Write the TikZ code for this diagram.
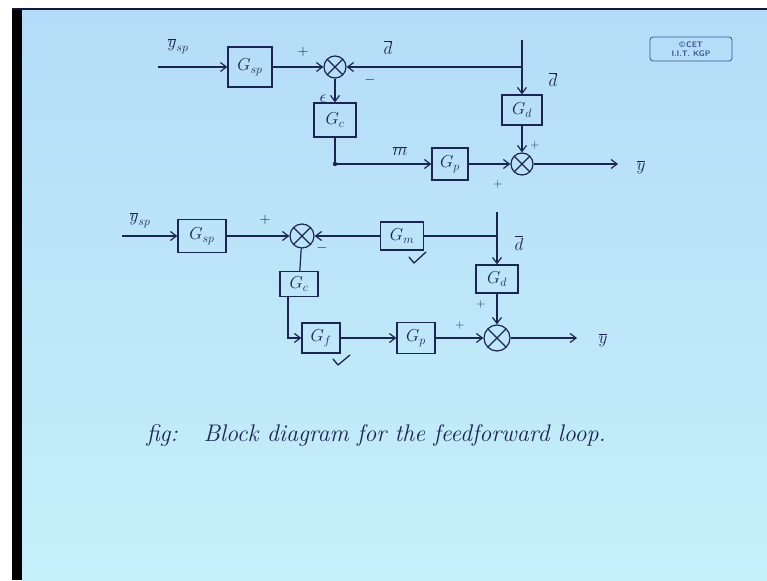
\documentclass[tikz,border=0pt]{standalone}
\usetikzlibrary{arrows.meta}
\definecolor{ink}{RGB}{28,36,84}
\definecolor{bgtop}{RGB}{180,220,248}
\definecolor{bgbot}{RGB}{198,240,250}
\definecolor{logoc}{RGB}{60,80,150}
\definecolor{edge}{RGB}{20,24,60}
\begin{document}
\begin{tikzpicture}[x=1pt,y=-1pt]
\tikzset{
  wire/.style={draw=ink,line width=1.2pt},
  sig/.style={wire,-{Straight Barb[length=6pt,width=9pt,line width=1.2pt]}},
  blk/.style={draw=ink,line width=1.2pt,rectangle,inner sep=0pt,text=ink,font=\fontsize{17}{19}\selectfont},
  sumj/.style={draw=ink,line width=1.2pt,circle,inner sep=0pt,minimum size=#1,
    path picture={\draw[ink,line width=1.1pt] (path picture bounding box.north west) -- (path picture bounding box.south east)
      (path picture bounding box.north east) -- (path picture bounding box.south west);}},
  lbl/.style={text=ink,font=\fontsize{17}{19}\selectfont},
  sgn/.style={text=ink,font=\fontsize{14}{16}\selectfont},
  tick/.style={draw=ink,line width=1.3pt,line cap=round,line join=round}
}
% background
\useasboundingbox (0,0) rectangle (767,580);
\fill[white] (0,0) rectangle (767,580);
\shade[top color=bgtop,bottom color=bgbot] (22,10) rectangle (767,580);
\fill[black] (12,8) rectangle (22,580);
\fill[edge] (12,8) rectangle (767,10);

% logo
\node[draw=logoc,rounded corners=3pt,line width=0.8pt,minimum width=82pt,minimum height=24pt,
  font=\sffamily\bfseries\fontsize{8}{8.5}\selectfont,text=logoc,align=center] (logo) at (691,49) {\textcopyright\,CET\\I.I.T. KGP};

% ---------- top diagram ----------
\coordinate (in1) at (158,67);
\node[blk,minimum width=44pt,minimum height=40pt] (gsp1) at (250,67) {$G_{sp}$};
\node[sumj=22pt] (s1) at (335,67) {};
\coordinate (dtop1) at (522,40);
\coordinate (j1) at (522,67);
\node[blk,minimum width=40pt,minimum height=30pt] (gd1) at (522,110) {$G_d$};
\node[blk,minimum width=42pt,minimum height=34pt] (gc1) at (335,120) {$G_c$};
\coordinate (dot1) at (335,164);
\node[blk,minimum width=36pt,minimum height=32pt] (gp1) at (450,164) {$G_p$};
\node[sumj=22pt] (s2) at (522,164) {};
\coordinate (out1) at (618,164);

\draw[sig] (in1) -- (gsp1);
\draw[sig] (gsp1) -- (s1);
\draw[sig] (dtop1) -- (gd1);
\draw[sig] (j1) -- (s1);
\draw[sig] (s1) -- (gc1);
\draw[wire] (gc1) -- (dot1);
\fill[ink] (dot1) circle (2.2pt);
\draw[sig] (dot1) -- (gp1);
\draw[sig] (gp1) -- (s2);
\draw[sig] (gd1) -- (s2);
\draw[sig] (s2) -- (out1);

\node[lbl] (l1) at (178,46) {$\overline{y}_{sp}$};
\node[sgn] (l2) at (303,52) {$+$};
\node[lbl] (l3) at (388,48) {$\overline{d}$};
\node[sgn] (l4) at (370,80) {$-$};
\node[lbl] (l5) at (323,99) {$\epsilon$};
\node[lbl] (l6) at (553,80) {$\overline{d}$};
\node[lbl] (l7) at (400,151) {$\overline{m}$};
\node[sgn,font=\fontsize{12}{14}\selectfont] (l8) at (535,146) {$+$};
\node[sgn,font=\fontsize{12}{14}\selectfont] (l9) at (498,184) {$+$};
\node[lbl] (l10) at (641,167) {$\overline{y}$};

% ---------- bottom diagram ----------
\coordinate (in2) at (122,236);
\node[blk,minimum width=48pt,minimum height=33pt] (gsp2) at (202,236) {$G_{sp}$};
\node[sumj=24pt] (s3) at (302,236) {};
\node[blk,minimum width=43pt,minimum height=28pt] (gm) at (402,236) {$G_m$};
\coordinate (dtop2) at (497,212);
\coordinate (j2) at (497,236);
\node[blk,minimum width=42pt,minimum height=28pt] (gd2) at (497,279) {$G_d$};
\node[blk,minimum width=38pt,minimum height=25pt] (gc2) at (299,284) {$G_c$};
\coordinate (bend) at (288,338);
\node[blk,minimum width=38pt,minimum height=30pt] (gf) at (321,338) {$G_f$};
\node[blk,minimum width=38pt,minimum height=31pt] (gp2) at (416,338) {$G_p$};
\node[sumj=26pt] (s4) at (497,338) {};
\coordinate (out2) at (577,338);

\draw[sig] (in2) -- (gsp2);
\draw[sig] (gsp2) -- (s3);
\draw[sig] (dtop2) -- (gd2);
\draw[wire] (j2) -- (gm);
\draw[sig] (gm) -- (s3);
\draw[wire] (s3) -- (gc2);
\draw[sig] (gc2.south -| bend) -- (bend) -- (gf);
\draw[sig] (gf) -- (gp2);
\draw[sig] (gp2) -- (s4);
\draw[sig] (gd2) -- (s4);
\draw[sig] (s4) -- (out2);

\node[lbl] (m1) at (140,220) {$\overline{y}_{sp}$};
\node[sgn] (m2) at (265,220) {$+$};
\node[sgn] (m3) at (322,248) {$-$};
\node[lbl] (m4) at (519,243) {$\overline{d}$};
\node[sgn,font=\fontsize{12}{14}\selectfont] (m5) at (460,325) {$+$};
\node[sgn,font=\fontsize{12}{14}\selectfont] (m6) at (481,304) {$+$};
\node[lbl] (m7) at (603,340) {$\overline{y}$};
\draw[tick] (409,257) -- (414,263) -- (426,252);
\draw[tick] (333,359) -- (338,365) -- (350,355);

% caption
\node[text=ink,anchor=west,font=\fontsize{24}{28}\selectfont\itshape] (c1) at (143,435) {fig:};
\node[text=ink,anchor=west,font=\fontsize{24}{28}\selectfont\itshape] (c2) at (200,435) {Block diagram for the feedforward loop.};
\end{tikzpicture}
\end{document}
